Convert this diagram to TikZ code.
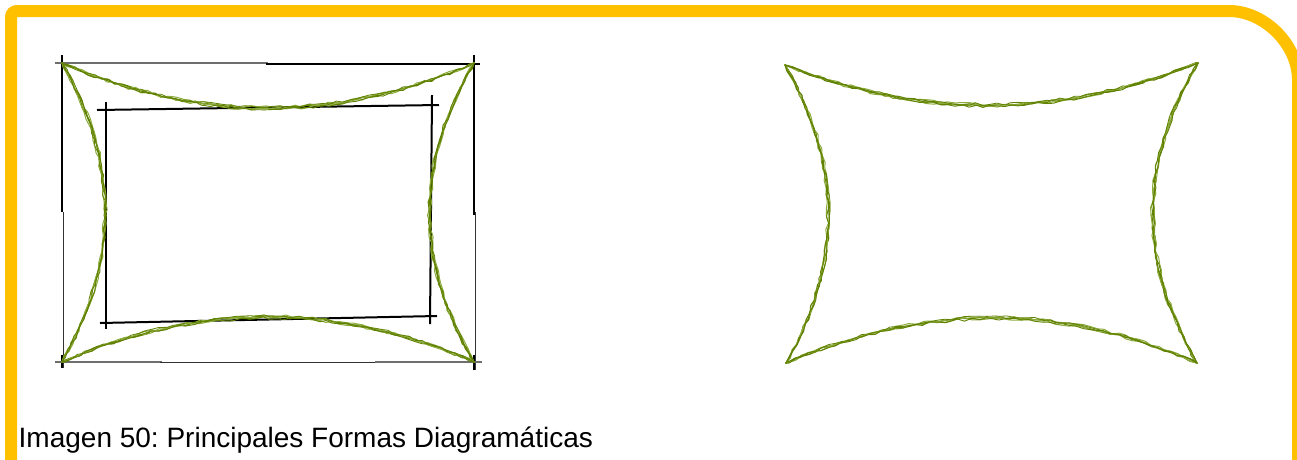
\documentclass[tikz,border=0pt]{standalone}
\usepackage{fontspec}
\setmainfont{Liberation Sans}
\usetikzlibrary{decorations.pathmorphing}
\definecolor{gold}{RGB}{255,192,0}
\definecolor{oliveA}{RGB}{96,128,0}
\definecolor{oliveB}{RGB}{140,172,60}
\definecolor{pencilgray}{RGB}{110,110,110}
\tikzset{
  frame/.style={draw=gold, line width=12pt, rounded corners=6pt},
  sk/.style={decorate, decoration={random steps, segment length=7pt, amplitude=1.4pt}, line join=round, line cap=round},
  skA/.style={sk, draw=oliveA, line width=1.3pt},
  skB/.style={sk, draw=oliveB, line width=1pt},
  innerline/.style={draw=black, line width=2pt},
  outerk/.style={draw=black, line width=1.4pt},
  outerg/.style={draw=pencilgray, line width=1.8pt},
  outerthin/.style={draw=black!80, line width=0.9pt},
  caption/.style={anchor=base west, inner sep=0pt, font=\fontsize{28}{34}\selectfont}
}
\newcommand\skc[4]{%
  \draw[skA] (#1) .. controls (#2) and (#3) .. (#4);
  \draw[skB, xshift=1.4pt, yshift=1.2pt] (#1) .. controls (#2) and (#3) .. (#4);
  \draw[skB, xshift=-1.3pt, yshift=-0.9pt] (#1) .. controls (#2) and (#3) .. (#4);
  \draw[skA, line width=0.9pt, xshift=0.6pt, yshift=-1.4pt] (#1) .. controls (#2) and (#3) .. (#4);
  \draw[skA, line width=0.8pt, xshift=-0.6pt, yshift=1.5pt] (#1) .. controls (#2) and (#3) .. (#4);
}
\begin{document}
\frenchspacing
\begin{tikzpicture}[x=1pt, y=-1pt]
\pgfmathsetseed{12}
\useasboundingbox (0,0) rectangle (1297,459);
\clip (0,0) rectangle (1297,459);
\fill[white] (0,0) rectangle (1297,459);
% frame
\draw[frame] (11,480) -- (11,11) -- (1223,11) arc[start angle=-90, end angle=0, radius=75] -- (1298,480);

% left diagram: outer sketched rectangle
\coordinate (A1) at (62,63);
\coordinate (A2) at (474,63);
\coordinate (A3) at (474,362);
\coordinate (A4) at (62,362);
\draw[outerg] (55,63) -- (268,63);
\draw[outerk] (266,64) -- (480,64);
\draw[outerk] (62,55) -- (62,212);
\draw[outerthin] (63,212) -- (63,368);
\draw[outerk, line width=2.2pt] (474,55) -- (474,215);
\draw[outerthin] (475,212) -- (475,370);
\draw[outerg] (55,362) -- (162,362);
\draw[outerthin] (160,362) -- (377,362);
\draw[outerg] (375,362) -- (482,362);
\draw[outerk] (62,355) -- (62,368);
\draw[outerk] (474,355) -- (474,370);

% inner rectangle
\draw[innerline] (97,110) -- (439,105);
\draw[innerline] (106,102) -- (106,329);
\draw[innerline] (432,95) -- (430,324);
\draw[innerline] (100,323) -- (437,316);

% left diagram: concave green curves
\skc{A1}{200,123}{336,123}{A2}
\skc{A2}{415,163}{415,262}{A3}
\skc{A3}{336,302}{200,302}{A4}
\skc{A4}{119,262}{119,163}{A1}

% right diagram
\coordinate (B1) at (785,65);
\coordinate (B2) at (1198,63);
\coordinate (B3) at (1197,363);
\coordinate (B4) at (786,363);
\skc{B1}{925,120}{1058,118}{B2}
\skc{B2}{1138,163}{1138,263}{B3}
\skc{B3}{1060,303}{925,303}{B4}
\skc{B4}{843,263}{842,165}{B1}

% caption
\node[caption] (cap) at (18.5,447) {Imagen 50: Principales Formas Diagramáticas};
\end{tikzpicture}
\end{document}
